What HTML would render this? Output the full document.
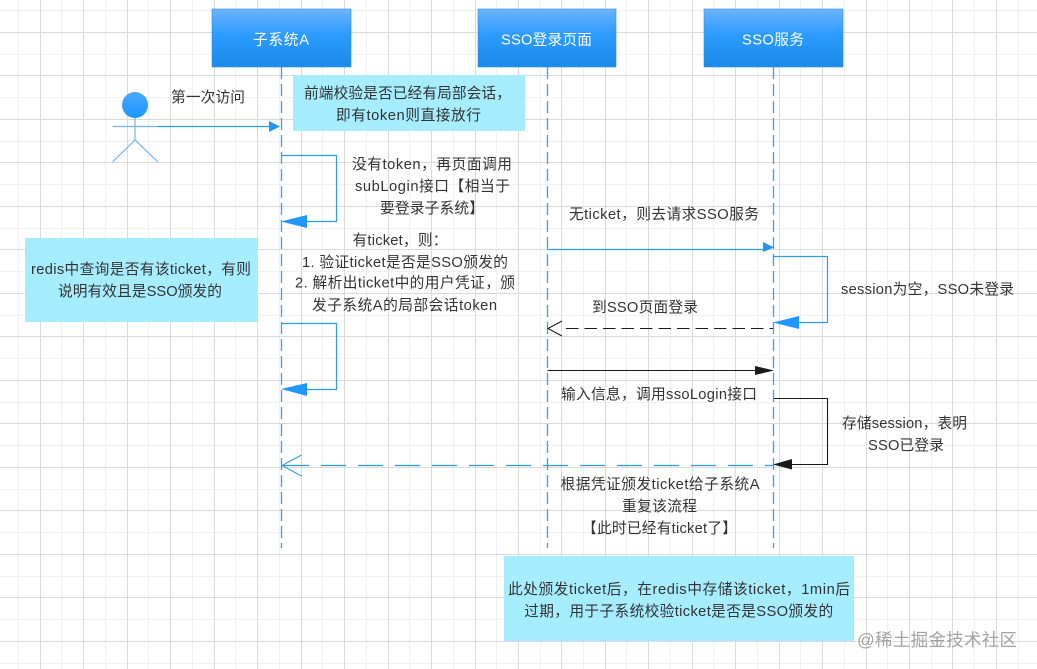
<!DOCTYPE html>
<html><head><meta charset="utf-8">
<style>
html,body{margin:0;padding:0;background:#fff;width:1037px;height:669px;overflow:hidden}
svg{display:block}
text{font-family:"Liberation Sans","Noto Sans CJK SC",sans-serif;font-size:14.7px;fill:#333;text-anchor:middle}
</style></head><body>
<svg width="1037" height="669" viewBox="0 0 1037 669" xmlns="http://www.w3.org/2000/svg">
<defs>
<linearGradient id="hdr" x1="0" y1="0" x2="0" y2="1">
<stop offset="0" stop-color="#6db3ff"/><stop offset=".45" stop-color="#2b9bff"/><stop offset="1" stop-color="#1c8ae8"/>
</linearGradient>
<linearGradient id="head" x1="0" y1="0" x2="0" y2="1">
<stop offset="0" stop-color="#49a8ff"/><stop offset="1" stop-color="#1e96ff"/>
</linearGradient>
</defs>
<rect width="1037" height="669" fill="#fff"/>
<!-- minor grid -->
<path fill="none" stroke="#f0f0f0" stroke-width="1" d="M18.500 0V669M61.500 0V669M105.500 0V669M148.500 0V669M192.500 0V669M235.500 0V669M279.500 0V669M322.500 0V669M366.500 0V669M409.500 0V669M453.500 0V669M496.500 0V669M540.500 0V669M583.500 0V669M626.500 0V669M670.500 0V669M713.500 0V669M757.500 0V669M800.500 0V669M844.500 0V669M887.500 0V669M931.500 0V669M974.500 0V669M1018.500 0V669M0 10.500H1037M0 54.500H1037M0 97.500H1037M0 141.500H1037M0 184.500H1037M0 228.500H1037M0 271.500H1037M0 315.500H1037M0 358.500H1037M0 402.500H1037M0 445.500H1037M0 489.500H1037M0 532.500H1037M0 576.500H1037M0 619.500H1037M0 663.500H1037"/>
<!-- major grid -->
<path fill="none" stroke="#dadada" stroke-width="1" d="M40.500 0V669M83.500 0V669M127.500 0V669M170.500 0V669M214.500 0V669M257.500 0V669M301.500 0V669M344.500 0V669M388.500 0V669M431.500 0V669M475.500 0V669M518.500 0V669M561.500 0V669M605.500 0V669M648.500 0V669M692.500 0V669M735.500 0V669M779.500 0V669M822.500 0V669M866.500 0V669M909.500 0V669M952.500 0V669M996.500 0V669M0 32.500H1037M0 75.500H1037M0 119.500H1037M0 162.500H1037M0 206.500H1037M0 249.500H1037M0 293.500H1037M0 336.500H1037M0 380.500H1037M0 423.500H1037M0 467.500H1037M0 510.500H1037M0 554.500H1037M0 597.500H1037M0 641.500H1037"/>

<!-- notes -->
<rect x="293" y="75" width="232" height="56" fill="#a6edff"/>
<rect x="25" y="238" width="233" height="84" fill="#a6edff"/>
<rect x="504" y="556" width="350" height="85" fill="#a6edff"/>

<!-- lifelines -->
<g stroke="#3aa0e8" stroke-width="1.3" stroke-dasharray="12 5" fill="none">
<path d="M281.500 67V548"/>
<path d="M547.500 67V548"/>
<path d="M773.500 67V548"/>
</g>

<!-- headers -->
<rect x="212" y="9" width="139" height="58" fill="url(#hdr)" stroke="#2a8fe0" stroke-width=".6"/>
<rect x="478" y="9" width="138" height="58" fill="url(#hdr)" stroke="#2a8fe0" stroke-width=".6"/>
<rect x="704" y="9" width="139" height="58" fill="url(#hdr)" stroke="#2a8fe0" stroke-width=".6"/>
<text x="281" y="44.500" textLength="56" style="fill:#fff">子系统A</text>
<text x="546.500" y="44.500" textLength="91" style="fill:#fff">SSO登录页面</text>
<text x="773" y="44.500" textLength="62" style="fill:#fff">SSO服务</text>

<!-- actor -->
<circle cx="135" cy="105" r="13" fill="url(#head)"/>
<g stroke="#6fb7f2" stroke-width="1.2" fill="none">
<path d="M135 118V140M112.500 126.500H158M112.500 162L135 140L158 162"/>
</g>

<!-- first arrow -->
<path d="M158 126.500H272" stroke="#2d9be8" stroke-width="1.2" fill="none"/>
<path d="M269 121L280 126.500L269 132Z" fill="#2196f3"/>

<!-- self loops A -->
<path d="M281.500 155.500H336.500V221.500H305" stroke="#2d9be8" stroke-width="1.2" fill="none"/>
<path d="M281 221.500L307 215V228Z" fill="#2096ff"/>
<path d="M281.500 323.500H336.500V389.500H305" stroke="#2d9be8" stroke-width="1.2" fill="none"/>
<path d="M281 389L307 383V396Z" fill="#2096ff"/>

<!-- dashed return to A -->
<path d="M321 465.500H773" stroke="#2d9be8" stroke-width="1.2" stroke-dasharray="25 12" fill="none"/>
<path d="M283 465.500H309" stroke="#2d9be8" stroke-width="1.2" fill="none"/>
<path d="M301.500 455L282 465.500L301.500 476" stroke="#2d9be8" stroke-width="1" fill="none"/>

<!-- request SSO -->
<path d="M547.500 249.500H765" stroke="#2d9be8" stroke-width="1.2" fill="none"/>
<path d="M763 242L774 247.500L763 252Z" fill="#2196f3"/>

<!-- SSO self loop -->
<path d="M774 256.500H827.500V322.500H797" stroke="#2d9be8" stroke-width="1.2" fill="none"/>
<path d="M773 322.500L799 316V329Z" fill="#2096ff"/>

<!-- dashed black -->
<path d="M566 328.500H773" stroke="#1a1a1a" stroke-width="1.1" stroke-dasharray="12.500 6" fill="none"/>
<path d="M562 321L548 328.500L562 336" stroke="#1a1a1a" stroke-width="1" fill="none"/>

<!-- black arrow -->
<path d="M547.500 370.500H757" stroke="#1a1a1a" stroke-width="1.1" fill="none"/>
<path d="M755 366L774 370.500L755 375Z" fill="#1a1a1a"/>

<!-- black loop -->
<path d="M774 398.500H827.500V464.500H790" stroke="#1a1a1a" stroke-width="1.1" fill="none"/>
<path d="M773 464.500L792 459V469.500Z" fill="#1a1a1a"/>

<!-- labels -->
<text x="208" y="102" textLength="74">第一次访问</text>
<text x="407.500" y="98" textLength="207">前端校验是否已经有局部会话，</text>
<text x="408.500" y="120" textLength="145">即有token则直接放行</text>
<text x="432" y="169" textLength="160">没有token，再页面调用</text>
<text x="432.500" y="191" textLength="155">subLogin接口【相当于</text>
<text x="432" y="213" textLength="104">要登录子系统】</text>
<text x="400" y="245" textLength="95">有ticket，则：</text>
<text x="405" y="267" textLength="206">1. 验证ticket是否是SSO颁发的</text>
<text x="405" y="287.500" textLength="220">2. 解析出ticket中的用户凭证，颁</text>
<text x="404.500" y="310" textLength="185">发子系统A的局部会话token</text>
<text x="141" y="274" textLength="220">redis中查询是否有该ticket，有则</text>
<text x="140" y="296" textLength="164">说明有效且是SSO颁发的</text>
<text x="664" y="219" textLength="190">无ticket，则去请求SSO服务</text>
<text x="927.500" y="294" textLength="173">session为空，SSO未登录</text>
<text x="645" y="312" textLength="106">到SSO页面登录</text>
<text x="659" y="399" textLength="196">输入信息，调用ssoLogin接口</text>
<text x="904.500" y="428" textLength="125">存储session，表明</text>
<text x="906" y="450" textLength="76">SSO已登录</text>
<text x="660" y="489" textLength="199">根据凭证颁发ticket给子系统A</text>
<text x="659.500" y="511" textLength="75">重复该流程</text>
<text x="659.500" y="533" textLength="155">【此时已经有ticket了】</text>
<text x="679" y="594" textLength="342">此处颁发ticket后，在redis中存储该ticket，1min后</text>
<text x="678.700" y="616" textLength="309">过期，用于子系统校验ticket是否是SSO颁发的</text>
<text x="937" y="646" textLength="160" style="font-size:17.500px;fill:#a3a3a3">@稀土掘金技术社区</text>
</svg>
</body></html>
